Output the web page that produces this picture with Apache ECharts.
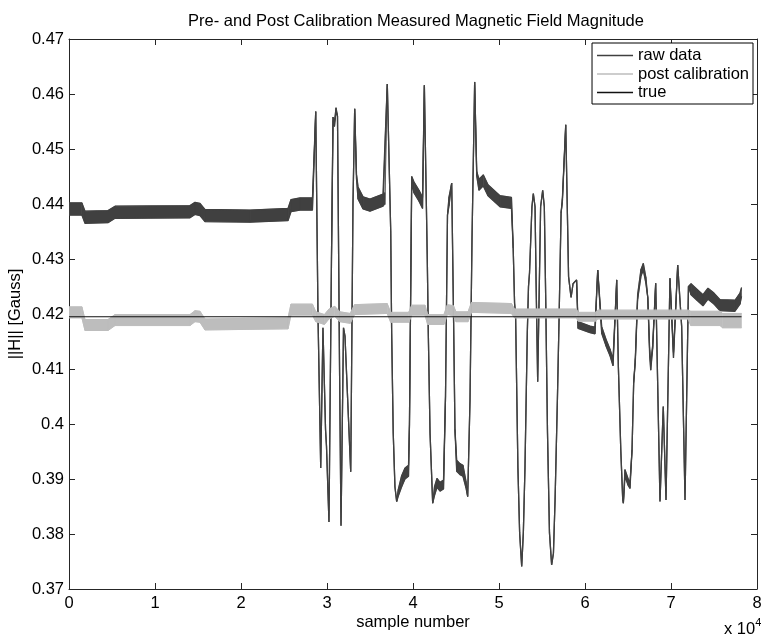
<!DOCTYPE html>
<html><head><meta charset="utf-8">
<script src="https://cdn.jsdelivr.net/npm/echarts@6/dist/echarts.min.js"></script>
<style>html,body{margin:0;padding:0;background:#fff}#c{width:761px;height:635px}</style>
</head><body><div id="c"></div>
<script>
// ---- data (samples, Gauss) ----
const xTickLabels = ['0','1','2','3','4','5','6','7','8']; // x 10^4
const yTickLabels = ['0.37','0.38','0.39','0.4','0.41','0.42','0.43','0.44','0.45','0.46','0.47'];

const rawSample = [
  0,1500,1860,4535,5350,14070,14650,15230,15810,21050,
  25470,25810,26860,28310,28690,28950,29270,29530,29830,29940,
  30230,30520,30700,30870,31050,31220,31460,31630,31920,32090,
  32760,33020,33220,33430,33610,34190,35000,36510,36740,37010,
  37410,37520,37700,37900,38100,38290,38680,39070,39480,39590,
  39850,40120,40700,41110,41320,41660,41780,41980,42290,42500,
  42790,43140,43550,43780,44010,44190,44500,44710,44880,45080,
  45460,45810,46160,46360,46630,46860,47170,47410,47670,48170,
  48720,50120,51450,51650,51810,51930,52200,52400,52640,52830,
  53020,53290,53430,53550,53830,53990,54190,54310,54500,54840,
  55080,55270,55430,55640,55870,56120,56330,56520,56790,56990,
  57220,57370,57760,58090,58380,58610,59020,59190,60580,61160,
  61480,61940,62440,62910,63260,63690,63880,64160,64390,64460,
  64650,65000,65230,65470,65660,65850,66120,66510,66780,67070,
  67300,67520,67640,67870,68220,68720,69100,69420,69880,70290,
  70780,71240,71630,72030,72330,73020,73720,74300,75000,75700,
  77440,78020,78200];
const rawValue = [
  0.4391,0.4391,0.4376,0.4377,0.4385,0.4386,0.4392,0.4390,0.4379,0.4378,
  0.4381,0.4397,0.4400,0.4400,0.4568,0.4200,0.3920,0.4175,0.3990,0.3960,
  0.3822,0.4300,0.4555,0.4545,0.4572,0.4560,0.4100,0.3815,0.4175,0.4160,
  0.3913,0.4400,0.4573,0.4450,0.4420,0.4402,0.4398,0.4407,0.4410,0.4618,
  0.4350,0.4165,0.3984,0.3886,0.3859,0.3875,0.3896,0.3910,0.3915,0.4000,
  0.4444,0.4430,0.4415,0.4402,0.4616,0.4300,0.4165,0.3984,0.3856,0.3878,
  0.3893,0.3886,0.3890,0.4050,0.4380,0.4405,0.4438,0.4200,0.3990,0.3924,
  0.3918,0.3915,0.3890,0.3868,0.4044,0.4335,0.4622,0.4455,0.4435,0.4443,
  0.4425,0.4405,0.4402,0.4320,0.4220,0.4197,0.3920,0.3802,0.3741,0.3802,
  0.3920,0.4165,0.4250,0.4275,0.4395,0.4419,0.4395,0.4262,0.4077,0.4395,
  0.4425,0.4395,0.4229,0.3984,0.3802,0.3744,0.3765,0.3862,0.4044,0.4195,
  0.4384,0.4407,0.4544,0.4268,0.4230,0.4255,0.4262,0.4180,0.4172,0.4170,
  0.4280,0.4171,0.4148,0.4130,0.4112,0.4262,0.4104,0.3953,0.3862,0.3856,
  0.3911,0.3895,0.3888,0.3953,0.4075,0.4116,0.4231,0.4275,0.4286,0.4262,
  0.4230,0.4130,0.4104,0.4140,0.4256,0.3859,0.4032,0.3862,0.4265,0.4125,
  0.4289,0.4177,0.3862,0.4250,0.4245,0.4235,0.4225,0.4237,0.4228,0.4216,
  0.4215,0.4228,0.4240];
const rawNoise = [
  0.0011,0.0011,0.0011,0.0011,0.0011,0.0011,0.0011,0.0011,0.0011,0.0011,
  0.0011,0.0011,0.0011,0.0011,0,0,0,0,0,0,
  0,0,0.0003,0.0004,0.0003,0,0,0,0,0,
  0,0,0,0.0004,0.0011,0.0011,0.0011,0.0011,0.0011,0,
  0,0,0,0,0,0.0006,0.0010,0.0010,0.0010,0,
  0.0006,0.0010,0.0010,0.0010,0,0,0,0,0,0.0008,
  0.0008,0.0008,0.0008,0,0,0.0008,0,0,0,0.0010,
  0.0010,0.0010,0.0006,0,0,0,0,0.0004,0.0010,0.0010,
  0.0010,0.0010,0.0010,0,0,0,0,0,0,0,
  0,0,0,0,0,0,0,0,0,0,
  0,0,0,0,0,0,0,0,0,0,
  0,0.0003,0,0,0,0,0,0.0006,0.0006,0.0006,
  0,0.0006,0.0006,0.0006,0.0006,0,0,0,0,0,
  0.0006,0.0006,0.0005,0,0,0.0003,0.0004,0.0006,0.0006,0.0005,
  0,0.0005,0.0006,0.0003,0,0,0,0,0,0.0005,
  0,0,0,0,0.0010,0.0010,0.0010,0.0010,0.0010,0.0010,
  0.0010,0.0010,0.0008];

const postSample = [0,1500,1860,4535,5350,14070,14650,15230,15810,25470,25810,28310,28700,29700,30230,30900,31500,32700,33200,
  37000,37400,39500,39850,41400,41700,43600,44000,44700,45000,46400,46800,51450,51800,59000,59200,61200,61500,
  72000,72300,75700,76000,78200];
const postValue = [0.4203,0.4203,0.4180,0.4180,0.4189,0.4189,0.4196,0.4195,0.4181,0.4183,0.4208,0.4208,0.4195,0.4190,0.4200,0.4205,0.4195,0.4192,0.4208,
  0.4210,0.4194,0.4194,0.4207,0.4207,0.4190,0.4190,0.4208,0.4206,0.4195,0.4195,0.4212,0.4210,0.4201,0.4201,0.4195,0.4195,0.4199,
  0.4199,0.4192,0.4192,0.4188,0.4188];
const postNoise = [0.0010,0.0010,0.0010,0.0010,0.0010,0.0010,0.0010,0.0010,0.0010,0.0010,0.0010,0.0010,0.0009,0.0009,0.0009,0.0009,0.0009,0.0009,0.0009,
  0.0009,0.0009,0.0009,0.0009,0.0009,0.0009,0.0009,0.0009,0.0009,0.0009,0.0009,0.0009,0.0009,0.0008,0.0008,0.0008,0.0008,0.0008,
  0.0008,0.0013,0.0013,0.0013,0.0013];

const trueSample = [0, 78200];
const trueValue = [0.4195, 0.4195];

// ---- chart ----
const RAW = '#404040', POST = '#bdbdbd', TRUE = '#111111', AX = '#262626';
const FONT = 'Liberation Sans, Arial, Helvetica, sans-serif';
const FS = 16.5;

const edge = (xs, vs, ns, sign) => xs.map((s, i) => [s, vs[i] + sign * ns[i]]);
const segs = (xs, vs, ns) => xs.slice(0, -1).map((s, i) =>
  [s, vs[i] - ns[i], vs[i] + ns[i], xs[i + 1], vs[i + 1] - ns[i + 1], vs[i + 1] + ns[i + 1]]);

function bandSeries(name, xs, vs, ns, color, z) {
  return {
    type: 'custom', name: name, z: z, silent: true, animation: false, clip: true,
    data: segs(xs, vs, ns),
    encode: {x: [0, 3], y: [1, 2, 4, 5]},
    renderItem: function (params, api) {
      if (api.value(1) === api.value(2) && api.value(4) === api.value(5)) return null;
      const a = api.coord([api.value(0), api.value(1)]);
      const b = api.coord([api.value(3), api.value(4)]);
      const c = api.coord([api.value(3), api.value(5)]);
      const d = api.coord([api.value(0), api.value(2)]);
      return {type: 'polygon', shape: {points: [a, b, c, d]},
        style: {fill: color, stroke: color, lineWidth: 0.6}};
    }
  };
}

const chart = echarts.init(document.getElementById('c'), null, {renderer: 'canvas'});

function xAx(pos, show) {
  return {
    type: 'value', position: pos, min: 0, max: 80000, interval: 10000,
    axisLine: {show: true, onZero: false, lineStyle: {color: AX, width: 1}},
    axisTick: {show: true, inside: true, length: 6, lineStyle: {color: AX}},
    axisLabel: {show: show, margin: 6, color: '#000', fontSize: FS, fontFamily: FONT,
      formatter: v => xTickLabels[Math.round(v / 10000)]},
    splitLine: {show: false}
  };
}
function yAx(pos, show) {
  return {
    type: 'value', position: pos, min: 0.37, max: 0.47, interval: 0.01,
    axisLine: {show: true, onZero: false, lineStyle: {color: AX, width: 1}},
    axisTick: {show: true, inside: true, length: 6, lineStyle: {color: AX}},
    axisLabel: {show: show, margin: 5, color: '#000', fontSize: FS, fontFamily: FONT,
      formatter: v => yTickLabels[Math.round((v - 0.37) / 0.01)]},
    splitLine: {show: false}
  };
}

const xBottom = xAx('bottom', true);
xBottom.name = 'sample number';
xBottom.nameLocation = 'middle';
xBottom.nameGap = 25;
xBottom.nameMoveOverlap = false;
xBottom.nameTextStyle = {color: '#000', fontSize: FS, fontFamily: FONT};
const yLeft = yAx('left', true);
yLeft.name = '||H|| [Gauss]';
yLeft.nameLocation = 'middle';
yLeft.nameGap = 45;
yLeft.nameMoveOverlap = false;
yLeft.nameTextStyle = {color: '#000', fontSize: FS, fontFamily: FONT};

const lineBase = {type: 'line', symbol: 'none', showSymbol: false, animation: false, silent: true, smooth: false};

chart.setOption({
  animation: false,
  backgroundColor: '#fff',
  title: {
    text: 'Pre- and Post Calibration Measured Magnetic Field Magnitude',
    left: 411, top: 8, textAlign: 'center',
    textStyle: {color: '#000', fontSize: FS, fontWeight: 'normal', fontFamily: FONT}
  },
  grid: {left: 69, right: 4, top: 39, bottom: 46, containLabel: false, outerBoundsMode: 'none'},
  legend: {
    orient: 'vertical', right: 8, top: 43,
    backgroundColor: '#fff', borderColor: '#000', borderWidth: 1, borderRadius: 0,
    padding: [4, 4, 3, 5], itemGap: 1.5, itemWidth: 36, itemHeight: 1.5,
    textStyle: {color: '#000', fontSize: FS, fontFamily: FONT},
    data: [{name: 'raw data', icon: 'rect'}, {name: 'post calibration', icon: 'rect'}, {name: 'true', icon: 'rect'}],
    selectedMode: false
  },
  xAxis: [xBottom, xAx('top', false)],
  yAxis: [yLeft, yAx('right', false)],
  graphic: [{
    type: 'text', left: 724, top: 617,
    style: {
      text: '{a|x 10}{b|4}',
      rich: {
        a: {fontSize: FS, fontFamily: FONT, fill: '#000', lineHeight: 21, verticalAlign: 'bottom'},
        b: {fontSize: 11, fontFamily: FONT, fill: '#000', lineHeight: 21, verticalAlign: 'top'}
      }
    }
  }],
  series: [
    Object.assign({}, lineBase, {name: 'raw data', data: edge(rawSample, rawValue, rawNoise, -1), z: 2,
      lineStyle: {color: RAW, width: 1.3}, itemStyle: {color: RAW}}),
    Object.assign({}, lineBase, {name: 'raw data', data: edge(rawSample, rawValue, rawNoise, 1), z: 2,
      lineStyle: {color: RAW, width: 1.3}, itemStyle: {color: RAW}}),
    bandSeries('raw data', rawSample, rawValue, rawNoise, RAW, 2),
    Object.assign({}, lineBase, {name: 'post calibration', data: edge(postSample, postValue, postNoise, -1), z: 3,
      lineStyle: {color: POST, width: 1}, itemStyle: {color: POST}}),
    Object.assign({}, lineBase, {name: 'post calibration', data: edge(postSample, postValue, postNoise, 1), z: 3,
      lineStyle: {color: POST, width: 1}, itemStyle: {color: POST}}),
    bandSeries('post calibration', postSample, postValue, postNoise, POST, 3),
    Object.assign({}, lineBase, {name: 'true', data: trueSample.map((s, i) => [s, trueValue[i]]), z: 4,
      lineStyle: {color: TRUE, width: 1.2}, itemStyle: {color: TRUE}})
  ]
});
</script>
</body></html>
